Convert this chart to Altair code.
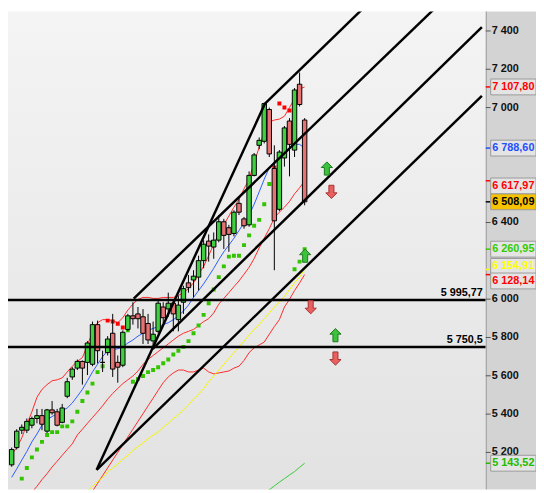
import altair as alt
import pandas as pd

# ---------------- data ----------------
candle_index = list(range(-1, 58))
open_ = [5135, 5225, 5316, 5316, 5342, 5377, 5392, 5311, 5422, 5412, 5357, 5493, 5594, 5640, 5675,
         5670, 5660, 5867, 5670, 5721, 5822, 5670, 5655, 5842, 5913, 5923, 5908, 5873, 5782, 5832,
         5959, 5949, 5979, 5893, 5984, 6085, 6100, 6115, 6201, 6303, 6272, 6308, 6404, 6373, 6343,
         6500, 6419, 6388, 6646, 6803, 6824, 6990, 6682, 6469, 6737, 6930, 6778, 7122, 6935]
close = [5215, 5311, 5331, 5362, 5377, 5392, 5347, 5422, 5407, 5342, 5432, 5569, 5635, 5675, 5640,
         5771, 5867, 5731, 5670, 5792, 5635, 5645, 5827, 5913, 5898, 5898, 5822, 5787, 5817, 5979,
         5903, 5979, 5923, 5969, 6055, 6060, 6120, 6201, 6287, 6277, 6308, 6404, 6333, 6338, 6454,
         6454, 6383, 6646, 6753, 6829, 7021, 6758, 6409, 6768, 6894, 6808, 7092, 7016, 6508.09]
high = [5225, 5321, 5346, 5377, 5387, 5427, 5427, 5427, 5468, 5427, 5453, 5589, 5645, 5685, 5680,
        5781, 5883, 5888, 5731, 5807, 5923, 5706, 5837, 5923, 5984, 5959, 5948, 5923, 5883, 5994,
        5984, 6034, 5994, 6019, 6070, 6126, 6151, 6227, 6308, 6338, 6348, 6439, 6419, 6388, 6464,
        6525, 6429, 6667, 6763, 6844, 7026, 7000, 6803, 6778, 6904, 6945, 7102, 7183, 6945]
low = [5125, 5215, 5296, 5301, 5326, 5352, 5316, 5301, 5397, 5336, 5352, 5483, 5579, 5630, 5554,
       5604, 5650, 5665, 5620, 5706, 5594, 5564, 5645, 5832, 5867, 5847, 5766, 5766, 5756, 5822,
       5873, 5908, 5832, 5832, 5923, 6034, 6009, 6045, 6161, 6196, 6211, 6297, 6262, 6247, 6328,
       6439, 6368, 6378, 6641, 6783, 6813, 6742, 6151, 6459, 6692, 6641, 6742, 7006, 6490]

band_upper = [5190, 5225, 5276, 5346, 5412, 5488, 5529, 5554, 5574, 5579, 5589, 5620, 5650, 5675, 5695,
              5761, 5827, 5877, 5893, 5893, 5888, 5877, 5903, 5943, 5974, 5999, 6009, 6009, 6004, 6004,
              6009, 6009, 6009, 6019, 6034, 6055, 6085, 6130, 6171, 6227, 6287, 6343, 6388, 6434, 6480,
              6520, 6576, 6626, 6712, 6793, 6874, 6925, 6935, 6940, 6955, 7000, 7046, 7097, 7107.80]
ma_blue = [5070, 5114, 5160, 5205, 5255, 5296, 5342, 5372, 5387, 5402, 5417, 5432, 5458, 5493, 5529,
           5574, 5620, 5660, 5700, 5731, 5736, 5741, 5751, 5771, 5787, 5807, 5822, 5837, 5847, 5857,
           5867, 5877, 5893, 5913, 5938, 5969, 6009, 6045, 6080, 6120, 6161, 6206, 6247, 6282, 6318,
           6358, 6398, 6439, 6495, 6560, 6626, 6687, 6717, 6742, 6763, 6788, 6808, 6808, 6788.60]
band_lower = [None] * 3 + [4960, 4992, 5023, 5058, 5089, 5124, 5154, 5185, 5215, 5245, 5291, 5321, 5352,
                           5382, 5412, 5443, 5478, 5508, 5534, 5559, 5579, 5599, 5625, 5660, 5685, 5706,
                           5726, 5746, 5766, 5787, 5807, 5822, 5832, 5842, 5862, 5883, 5898, 5928, 5974,
                           6004, 6034, 6065, 6095, 6130, 6166, 6212, 6267, 6318, 6368, 6424, 6454, 6480,
                           6510, 6550, 6581, 6617.97]
red_slow = [None] * 16 + [4998, 5038, 5079, 5119, 5160, 5200, 5240, 5281, 5321, 5362, 5402, 5443, 5483,
                          5524, 5564, 5594, 5615, 5630, 5630, 5620, 5620, 5630, 5640, 5620, 5610, 5615,
                          5620, 5625, 5640, 5650, 5680, 5721, 5746, 5761, 5776, 5817, 5857, 5893, 5959,
                          5999, 6045, 6085, 6128.14]
ma_yellow = [None] * 15 + [4998, 5023, 5048, 5068, 5099, 5119, 5139, 5164, 5185, 5210, 5230, 5250, 5271,
                           5291, 5306, 5331, 5352, 5377, 5397, 5422, 5448, 5478, 5503, 5534, 5569, 5599,
                           5630, 5660, 5690, 5721, 5751, 5781, 5812, 5842, 5867, 5898, 5928, 5959, 5984,
                           6014, 6050, 6085, 6115, 6154.91]
ma_green = [None] * 50 + [4985, 5005, 5025, 5045, 5063, 5082, 5100, 5122, 5143.52]
sar = [None] * 2 + [5063, 5119, 5174, 5215, 5255, 5291, 5306, 5306, 5336, 5336, 5362, 5412, 5468, 5513,
                    5559, 5619, 5650, 5888, 5883, 5872, 5852, 5837, 5569, 5584, 5599, 5619, 5630, 5645,
                    5665, 5685, 5711, 5731, 5751, 5781, 5822, 5862, 5918, 5979, 6050, 6115, 6171, 6222,
                    6227, 6227, 6282, 6333, 6383, 6414, 6495, 6601, 6687, 7021, 7000, 6985, 6156, 6196,
                    6260.95]

# drawn trend lines (bar index, price)
trend_name = ["v1", "v1", "v2", "v2", "a", "a", "b", "b", "d", "d"]
trend_i = [15.82, 49.15, 15.82, 92.09, 23.16, 85.88, 26.93, 92.09, 49.15, 68.9]
trend_p = [5109, 7021, 5109, 7061, 6003, 7597, 5741, 7420, 7021, 7526]

h_levels = [5995.77, 5750.5]
h_labels = ["5 995,77", "5 750,5"]

arrow_i = [61.4, 62.3, 57.1, 58.2, 63.1, 63.1]
arrow_p = [6682, 6560, 6227, 5958, 5812, 5690]
arrow_dir = ["up", "down", "up", "down", "up", "down"]

tick_values = [7400, 7200, 7000, 6400, 6000, 5800, 5600, 5400, 5200]
tick_labels = ["7 400", "7 200", "7 000", "6 400", "6 000", "5 800", "5 600", "5 400", "5 200"]

value_levels = [7107.80, 6788.60, 6617.97, 6508.09, 6260.95, 6154.91, 6128.14, 5143.52]
value_label_levels = [7107.80, 6788.60, 6591, 6508.09, 6260.95, 6171, 6095, 5143.52]
value_texts = ["7 107,80", "6 788,60", "6 617,97", "6 508,09", "6 260,95", "6 154,91", "6 128,14", "5 143,52"]
value_colors = ["#ff0000", "#1f4fff", "#ff0000", "#000000", "#33cc00", "#ffff00", "#ff0000", "#22bb00"]
value_fills = ["#e4e4e4", "#e4e4e4", "#e4e4e4", "#f7c200", "#e4e4e4", "#e4e4e4", "#e4e4e4", "#e4e4e4"]

# ---------------- frames ----------------
W, H = 536, 485
PLOT_W = 485
xs = alt.Scale(domain=[-0.754, 101.83], nice=False, zero=False)
ys = alt.Scale(domain=[5007, 7501], nice=False, zero=False)
FONT = "Liberation Sans"

candles = pd.DataFrame({"i": candle_index, "o": open_, "c": close, "h": high, "l": low})
candles["dir"] = ["up" if c > o else ("down" if c < o else "flat") for o, c in zip(open_, close)]

series = {"upper": (band_upper, "#ff2a2a"), "lower": (band_lower, "#ff2a2a"),
          "slow": (red_slow, "#ff2a2a"), "yellow": (ma_yellow, "#f5f500"),
          "green": (ma_green, "#33cc33"), "blue": (ma_blue, "#2a5cff")}

sar_df = pd.DataFrame({"i": candle_index, "v": sar, "c": close}).dropna()
sar_df["side"] = ["above" if v > c else "below" for v, c in zip(sar_df["v"], sar_df["c"])]

trend_df = pd.DataFrame({"name": trend_name, "i": trend_i, "v": trend_p})
hl_df = pd.DataFrame({"v": h_levels, "t": h_labels})
arrow_df = pd.DataFrame({"i": arrow_i, "v": arrow_p, "d": arrow_dir})
tick_df = pd.DataFrame({"v": tick_values, "t": tick_labels})
val_df = pd.DataFrame({"v": value_levels, "lv": value_label_levels, "t": value_texts,
                       "col": value_colors, "fill": value_fills})
one = pd.DataFrame({"k": [0]})

layers = []

bg = alt.Gradient(gradient="linear",
                  stops=[alt.GradientStop(color="#f4f4f4", offset=0),
                         alt.GradientStop(color="#e2e2e2", offset=1)],
                  x1=0, x2=0, y1=0, y2=1)
layers.append(alt.Chart(one).mark_rect(color=bg).encode(
    x=alt.value(0), x2=alt.value(PLOT_W), y=alt.value(0), y2=alt.value(H)))

for name, (vals, col) in series.items():
    df = pd.DataFrame({"i": candle_index, "v": vals}).dropna()
    layers.append(alt.Chart(df).mark_line(color=col, strokeWidth=1, clip=True).encode(
        x=alt.X("i:Q", scale=xs, axis=None), y=alt.Y("v:Q", scale=ys, axis=None)))

layers.append(alt.Chart(sar_df).mark_square(size=16, opacity=1, clip=True).encode(
    x=alt.X("i:Q", scale=xs, axis=None), y=alt.Y("v:Q", scale=ys, axis=None),
    color=alt.Color("side:N", scale=alt.Scale(domain=["above", "below"], range=["#ff0000", "#33c400"]),
                    legend=None)))

layers.append(alt.Chart(candles).mark_rule(color="black", strokeWidth=1, clip=True).encode(
    x=alt.X("i:Q", scale=xs, axis=None), y=alt.Y("l:Q", scale=ys, axis=None), y2="h:Q"))
layers.append(alt.Chart(candles).mark_bar(size=4.5, stroke="black", strokeWidth=1, clip=True).encode(
    x=alt.X("i:Q", scale=xs, axis=None), y=alt.Y("o:Q", scale=ys, axis=None), y2="c:Q",
    fill=alt.Fill("dir:N", scale=alt.Scale(domain=["up", "down", "flat"],
                                            range=["#3fcf3f", "#e57373", "#000000"]), legend=None)))

layers.append(alt.Chart(trend_df).mark_line(color="black", strokeWidth=2.5, clip=True).encode(
    x=alt.X("i:Q", scale=xs, axis=None), y=alt.Y("v:Q", scale=ys, axis=None), detail="name:N"))

layers.append(alt.Chart(hl_df).mark_rule(color="black", strokeWidth=2.5).encode(
    x=alt.value(0), x2=alt.value(PLOT_W), y=alt.Y("v:Q", scale=ys, axis=None)))
layers.append(alt.Chart(hl_df).mark_text(font=FONT, fontSize=11, fontWeight="bold", align="right",
                                         baseline="bottom", dy=-2, color="black").encode(
    x=alt.value(PLOT_W - 3), y=alt.Y("v:Q", scale=ys, axis=None), text="t:N"))

up_path = "M0,-1L0.85,-0.15L0.38,-0.15L0.38,1L-0.38,1L-0.38,-0.15L-0.85,-0.15Z"
down_path = "M0,1L0.85,0.15L0.38,0.15L0.38,-1L-0.38,-1L-0.38,0.15L-0.85,0.15Z"
layers.append(alt.Chart(arrow_df).transform_filter(alt.datum.d == "up").mark_point(
    shape=up_path, size=180, filled=True, fill="#3cc23c", stroke="#1d7a1d", strokeWidth=1, opacity=1).encode(
    x=alt.X("i:Q", scale=xs, axis=None), y=alt.Y("v:Q", scale=ys, axis=None)))
layers.append(alt.Chart(arrow_df).transform_filter(alt.datum.d == "down").mark_point(
    shape=down_path, size=180, filled=True, fill="#e86060", stroke="#a83030", strokeWidth=1, opacity=1).encode(
    x=alt.X("i:Q", scale=xs, axis=None), y=alt.Y("v:Q", scale=ys, axis=None)))

# right price panel
layers.append(alt.Chart(one).mark_rect(color="#d3d3d3").encode(
    x=alt.value(PLOT_W), x2=alt.value(W), y=alt.value(0), y2=alt.value(H)))
layers.append(alt.Chart(one).mark_rule(color="#9a9a9a", strokeWidth=1).encode(
    x=alt.value(PLOT_W + 0.5), y=alt.value(0), y2=alt.value(H)))
layers.append(alt.Chart(tick_df).mark_rule(color="#555555", strokeWidth=1).encode(
    x=alt.value(PLOT_W), x2=alt.value(PLOT_W + 5), y=alt.Y("v:Q", scale=ys, axis=None)))
layers.append(alt.Chart(tick_df).mark_text(font=FONT, fontSize=11, fontWeight="bold", align="left",
                                           baseline="middle", color="#111111").encode(
    x=alt.value(PLOT_W + 6), y=alt.Y("v:Q", scale=ys, axis=None), text="t:N"))

box_path = "M-1,-0.35H1V0.35H-1Z"
layers.append(alt.Chart(val_df).mark_rule(strokeWidth=1.5).encode(
    x=alt.value(PLOT_W), x2=alt.value(PLOT_W + 5), y=alt.Y("v:Q", scale=ys, axis=None),
    color=alt.Color("col:N", scale=None)))
layers.append(alt.Chart(val_df).mark_point(shape=box_path, size=2116, filled=True, opacity=1,
                                           stroke="#9a9a9a", strokeWidth=1).encode(
    x=alt.value(PLOT_W + 28), y=alt.Y("lv:Q", scale=ys, axis=None),
    fill=alt.Fill("fill:N", scale=None)))
layers.append(alt.Chart(val_df).mark_text(font=FONT, fontSize=11, fontWeight="bold", align="center",
                                          baseline="middle").encode(
    x=alt.value(PLOT_W + 28), y=alt.Y("lv:Q", scale=ys, axis=None), text="t:N",
    color=alt.Color("col:N", scale=None)))

chart = alt.layer(*layers).properties(
    width=W, height=H, padding=0, autosize=alt.AutoSizeParams(type="none")
).configure_view(strokeWidth=0)

chart.save("out.html", embed_options={"renderer": "svg", "actions": False})
